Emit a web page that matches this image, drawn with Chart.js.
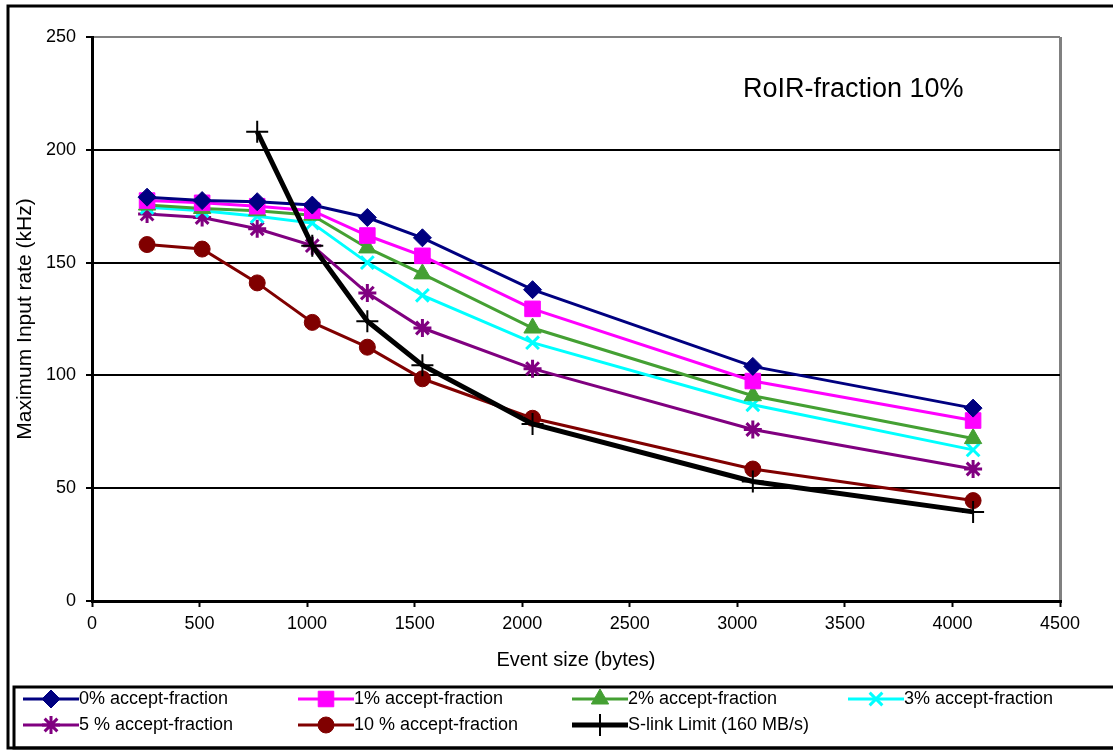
<!DOCTYPE html>
<html>
<head>
<meta charset="utf-8">
<script src="https://cdn.jsdelivr.net/npm/chart.js@4.4.0/dist/chart.umd.min.js"></script>
<style>
  html, body { margin: 0; padding: 0; background: #fff; }
  #wrap { width: 1113px; height: 751px; }
</style>
</head>
<body>
<div id="wrap"><canvas id="chart" width="1113" height="751"></canvas></div>
<script>
// event sizes (bytes)
const eventSizes = [256, 512, 768, 1024, 1280, 1536, 2048, 3072, 4096];
const slinkSizes = [768, 1024, 1280, 1536, 2048, 3072, 4096];

// maximum input rate (kHz)
const accept0 = [179, 177.5, 177, 175.5, 170, 161, 138, 104, 85.5];
const accept1 = [177.5, 176.5, 175, 173, 162, 153, 129.5, 97.5, 80];
const accept2 = [175.5, 174, 173, 171, 156.5, 145, 121, 91, 72];
const accept3 = [174.5, 173, 170.5, 167.5, 150, 135.5, 114.5, 87, 67];
const accept5 = [171.5, 170, 165, 157.5, 136.5, 121, 103, 76, 58.5];
const accept10 = [158, 156, 141, 123.5, 112.5, 98.5, 81, 58.5, 44.5];
const slinkLimit = [208, 157.5, 124, 104.5, 78.5, 53, 39.5];

const seriesNames = [
    "0% accept-fraction", "1% accept-fraction", "2% accept-fraction", "3% accept-fraction",
    "5 % accept-fraction", "10 % accept-fraction", "S-link Limit (160 MB/s)"
];

const FONT = "'Liberation Sans', Arial, sans-serif";

function pts(xs, ys) {
    return xs.map((x, i) => ({ x: x, y: ys[i] }));
}

function series(label, xs, ys, color, style, radius, lineW, ptBorder) {
    return {
        label: label,
        data: pts(xs, ys),
        borderColor: color,
        backgroundColor: color,
        borderWidth: lineW,
        pointStyle: style,
        pointRadius: radius,
        pointBorderWidth: ptBorder,
        pointBackgroundColor: color,
        pointBorderColor: color,
        tension: 0,
        fill: false
    };
}

const datasets = [
    series(seriesNames[0], eventSizes, accept0, "#000080", "rectRot", 9, 3, 1),
    series(seriesNames[1], eventSizes, accept1, "#ff00ff", "rect", 11, 3, 1),
    series(seriesNames[2], eventSizes, accept2, "#44a033", "triangle", 10, 3, 1),
    series(seriesNames[3], eventSizes, accept3, "#00ffff", "crossRot", 9, 3, 3),
    series(seriesNames[4], eventSizes, accept5, "#800080", "star", 9, 3, 3),
    series(seriesNames[5], eventSizes, accept10, "#800000", "circle", 8, 3, 1),
    series(seriesNames[6], slinkSizes, slinkLimit, "#000000", "cross", 11, 5, 2)
];
datasets[6].order = -1;

// frame, in-plot title and the boxed legend
const decorations = {
    id: 'decorations',
    afterDraw(chart) {
        const ctx = chart.ctx;
        ctx.save();
        ctx.strokeStyle = '#000';
        ctx.lineWidth = 3;
        ctx.strokeRect(8, 6, 1113, 742);
        ctx.strokeRect(14, 687, 1113, 61);

        ctx.fillStyle = '#000';
        ctx.font = '27px ' + FONT;
        ctx.textBaseline = 'middle';
        ctx.fillText('RoIR-fraction 10%', 743, 90);

        const cols = [23, 298, 572, 848];
        const rows = [699, 725];
        ctx.font = '18px ' + FONT;
        chart.data.datasets.forEach((ds, i) => {
            const x0 = cols[i % 4];
            const y = rows[Math.floor(i / 4)];
            ctx.strokeStyle = ds.borderColor;
            ctx.lineWidth = ds.borderWidth;
            ctx.beginPath();
            ctx.moveTo(x0, y);
            ctx.lineTo(x0 + 56, y);
            ctx.stroke();
            ctx.fillStyle = ds.pointBackgroundColor;
            ctx.strokeStyle = ds.pointBorderColor;
            ctx.lineWidth = ds.pointBorderWidth;
            Chart.helpers.drawPoint(ctx, {
                pointStyle: ds.pointStyle,
                radius: ds.pointRadius,
                rotation: 0,
                borderWidth: ds.pointBorderWidth
            }, x0 + 28, y);
            ctx.fillStyle = '#000';
            ctx.fillText(ds.label, x0 + 56, y);
        });
        ctx.restore();
    }
};

new Chart(document.getElementById('chart'), {
    type: 'line',
    data: { datasets: datasets },
    options: {
        responsive: false,
        animation: false,
        layout: { padding: { left: 10, top: 37, right: 53, bottom: 76 } },
        plugins: {
            legend: { display: false },
            tooltip: { enabled: false }
        },
        scales: {
            x: {
                type: 'linear',
                min: 0,
                max: 4500,
                afterFit(scale) { scale.height = 74; },
                ticks: {
                    stepSize: 500,
                    color: '#000',
                    padding: 6,
                    maxRotation: 0,
                    callback: v => String(v),
                    font: { family: FONT, size: 18 }
                },
                grid: {
                    color: c => (c.tick && c.tick.value === 4500) ? '#808080' : 'rgba(0,0,0,0)',
                    lineWidth: 3,
                    tickColor: '#000',
                    tickWidth: 2,
                    tickLength: 6
                },
                border: { color: '#000', width: 3 },
                title: {
                    display: true,
                    text: 'Event size (bytes)',
                    color: '#000',
                    padding: { top: 4, bottom: 3 },
                    font: { family: FONT, size: 20 }
                }
            },
            y: {
                min: 0,
                max: 250,
                afterFit(scale) { scale.width = 82; },
                ticks: {
                    stepSize: 50,
                    color: '#000',
                    padding: 10,
                    callback: v => String(v),
                    font: { family: FONT, size: 18 }
                },
                grid: {
                    color: c => (c.tick && c.tick.value === 250) ? '#808080' : '#000',
                    lineWidth: 2,
                    tickColor: '#000',
                    tickWidth: 2,
                    tickLength: 6
                },
                border: { color: '#000', width: 3 },
                title: {
                    display: true,
                    text: 'Maximum Input rate (kHz)',
                    color: '#000',
                    padding: { top: 3, bottom: 4 },
                    font: { family: FONT, size: 21 }
                }
            }
        }
    },
    plugins: [decorations]
});
</script>
</body>
</html>
